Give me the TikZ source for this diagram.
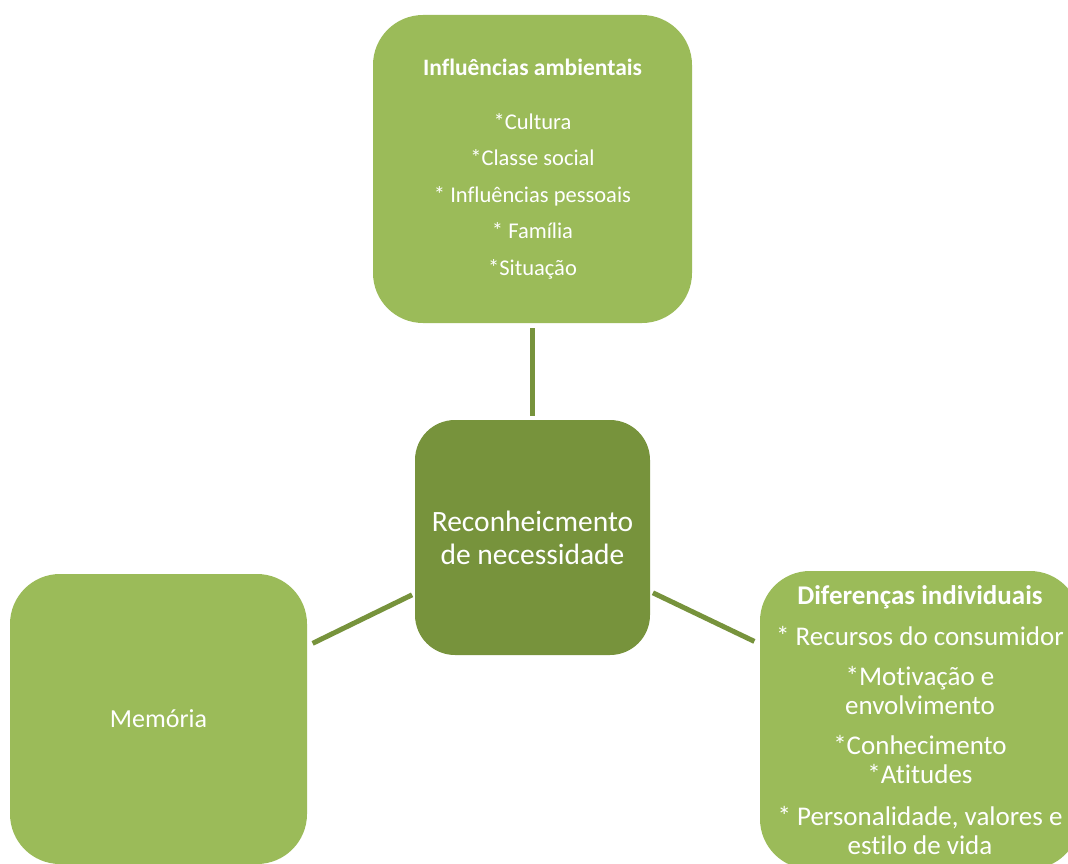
\documentclass[tikz,border=0pt]{standalone}
\usepackage{fontspec}
\setmainfont[Ligatures={NoCommon}]{Carlito}
\usetikzlibrary{calc}
\definecolor{lightgreen}{HTML}{9BBB59}
\definecolor{darkgreen}{HTML}{77933C}
\tikzset{
  box/.style={rectangle, rounded corners=50pt, fill=lightgreen, text=white, align=center, inner sep=0pt},
  hub/.style={rectangle, rounded corners=40pt, fill=darkgreen, text=white, align=center, inner sep=0pt},
  link/.style={draw=darkgreen, line width=5pt}
}
\begin{document}
\begin{tikzpicture}[x=1pt,y=-1pt]
\useasboundingbox (0,0) rectangle (1068,864);
\node[box, minimum width=319pt, minimum height=308pt, font=\fontsize{22.5}{36.5}\selectfont] (amb) at (532.5,169)
  {{\fontsize{23.5}{36.5}\selectfont\bfseries Influências ambientais}\\[17pt]
   *Cultura\\ *Classe social\\ * Influências pessoais\\ * Família\\ *Situação};
\node[hub, minimum width=235pt, minimum height=235pt, font=\fontsize{29.5}{33}\selectfont] (ctr) at (532.5,537.5)
  {Reconheicmento\\ de necessidade};
\node[box, minimum width=297pt, minimum height=290pt, font=\fontsize{26}{30}\selectfont] (mem) at (158.5,719)
  {Memória};
\node[box, minimum width=320pt, minimum height=298pt, font=\fontsize{27}{29}\selectfont] (dif) at (920,720)
  {\textbf{Diferenças individuais}\\[12pt]
   * Recursos do consumidor\\[11pt]
   *Motivação e\\ envolvimento\\[11pt]
   *Conhecimento\\ *Atitudes\\[13pt]
   * Personalidade, valores e\\ estilo de vida};
\draw[link, shorten >=4pt, shorten <=5pt] (amb.south) -- (ctr.north);
\draw[link, shorten >=3pt, shorten <=6pt] ([yshift=73pt]mem.east) -- ([yshift=-56pt]ctr.west);
\draw[link, shorten >=6pt, shorten <=3pt] ([yshift=-54pt]ctr.east) -- ([yshift=76pt]dif.west);
\end{tikzpicture}
\end{document}
